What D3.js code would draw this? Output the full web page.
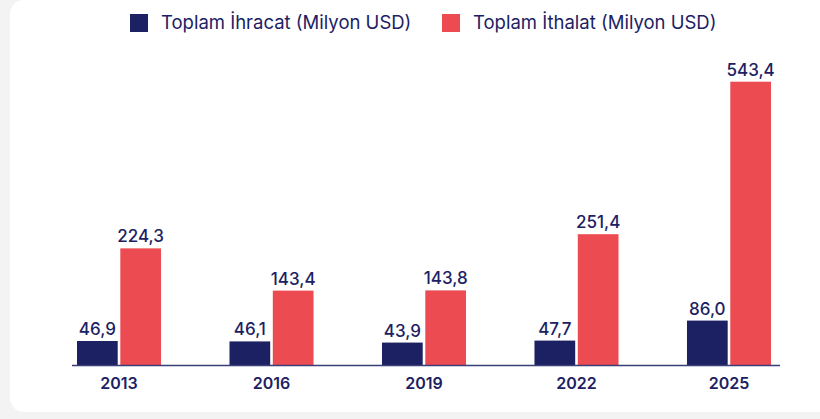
<!DOCTYPE html>
<html>
<head>
<meta charset="utf-8">
<script src="https://cdn.jsdelivr.net/npm/d3@7"></script>
<style>
  html, body { margin: 0; padding: 0; background: #f3f3f3; }
  #chart { width: 820px; height: 419px; }
  text { font-family: Inter, "Open Sans", sans-serif; }
</style>
</head>
<body>
<div id="chart"></div>
<script>
const years = ["2013", "2016", "2019", "2022", "2025"];
const exportsVals = [46.9, 46.1, 43.9, 47.7, 86.0];
const importsVals = [224.3, 143.4, 143.8, 251.4, 543.4];
const seriesNames = ["Toplam İhracat (Milyon USD)", "Toplam İthalat (Milyon USD)"];
const colors = ["#1c2163", "#ec4b51"];

const W = 820, H = 419;
const svg = d3.select("#chart").append("svg")
  .attr("width", W).attr("height", H);

// card background
svg.append("rect")
  .attr("x", 10).attr("y", 0)
  .attr("width", W + 20).attr("height", 412)
  .attr("rx", 14)
  .attr("fill", "#fff");

const axisY = 365.5;
const x = d3.scaleBand().domain(years).range([77, 771]).paddingInner(0.449).paddingOuter(0);
const sub = d3.scaleBand().domain([0, 1]).range([0, x.bandwidth()]).paddingInner(0.06);
const y = d3.scaleLinear().domain([0, d3.max(importsVals)]).range([axisY, 81.7]);

const fmt = v => v.toFixed(1).replace(".", ",");

const rows = years.map((yr, i) => ({ yr, vals: [exportsVals[i], importsVals[i]] }));

const g = svg.selectAll(".grp").data(rows).enter().append("g")
  .attr("transform", d => `translate(${x(d.yr)},0)`);

g.selectAll("rect").data(d => d.vals).enter().append("rect")
  .attr("x", (d, j) => sub(j))
  .attr("width", sub.bandwidth())
  .attr("y", d => y(d))
  .attr("height", d => axisY - y(d))
  .attr("fill", (d, j) => colors[j]);

g.selectAll(".val").data(d => d.vals).enter().append("text")
  .attr("class", "val")
  .attr("x", (d, j) => sub(j) + sub.bandwidth() / 2)
  .attr("y", d => y(d) - 6)
  .attr("text-anchor", "middle")
  .attr("font-size", 17)
  .attr("font-weight", 500)
  .attr("fill", colors[0])
  .text(fmt);

// axis line
svg.append("line")
  .attr("x1", 72).attr("x2", 780)
  .attr("y1", axisY).attr("y2", axisY)
  .attr("stroke", "#3b3f78").attr("stroke-width", 1.5);

svg.selectAll(".yr").data(years).enter().append("text")
  .attr("class", "yr")
  .attr("x", d => x(d) + x.bandwidth() / 2)
  .attr("y", 389)
  .attr("text-anchor", "middle")
  .attr("font-size", 16)
  .attr("font-weight", 600)
  .attr("fill", colors[0])
  .text(d => d);

// legend
const legendX = [130, 442];
const leg = svg.selectAll(".leg").data(seriesNames).enter().append("g")
  .attr("transform", (d, i) => `translate(${legendX[i]},14)`);
leg.append("rect").attr("width", 18).attr("height", 18).attr("fill", (d, i) => colors[i]);
leg.append("text")
  .attr("x", 31).attr("y", 15)
  .attr("font-size", 18.5)
  .attr("fill", colors[0])
  .text(d => d);
</script>
</body>
</html>
